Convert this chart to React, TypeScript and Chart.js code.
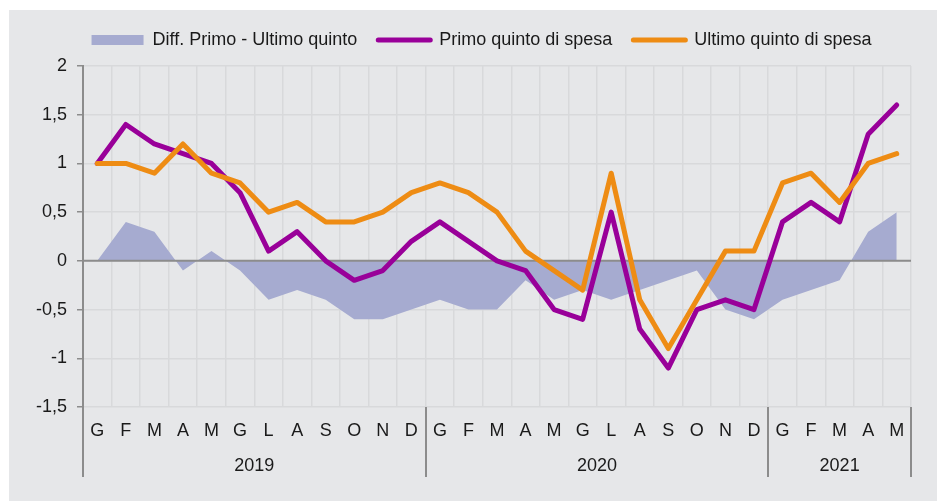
import React, { useEffect, useRef } from 'react';
import { Chart, registerables } from 'chart.js';

Chart.register(...registerables);

// ---- data ----
const categories = [
  'G', 'F', 'M', 'A', 'M', 'G', 'L', 'A', 'S', 'O', 'N', 'D',
  'G', 'F', 'M', 'A', 'M', 'G', 'L', 'A', 'S', 'O', 'N', 'D',
  'G', 'F', 'M', 'A', 'M',
];
const years = ['2019', '2020', '2021'];
const monthsPerYear = [12, 12, 5];

const diffPrimoUltimo = [
  0, 0.4, 0.3, -0.1, 0.1, -0.1, -0.4, -0.3, -0.4, -0.6, -0.6, -0.5,
  -0.4, -0.5, -0.5, -0.2, -0.4, -0.3, -0.4, -0.3, -0.2, -0.1, -0.5, -0.6,
  -0.4, -0.3, -0.2, 0.3, 0.5,
];
const primoQuinto = [
  1.0, 1.4, 1.2, 1.1, 1.0, 0.7, 0.1, 0.3, 0.0, -0.2, -0.1, 0.2,
  0.4, 0.2, 0.0, -0.1, -0.5, -0.6, 0.5, -0.7, -1.1, -0.5, -0.4, -0.5,
  0.4, 0.6, 0.4, 1.3, 1.6,
];
const ultimoQuinto = [
  1.0, 1.0, 0.9, 1.2, 0.9, 0.8, 0.5, 0.6, 0.4, 0.4, 0.5, 0.7,
  0.8, 0.7, 0.5, 0.1, -0.1, -0.3, 0.9, -0.4, -0.9, -0.4, 0.1, 0.1,
  0.8, 0.9, 0.6, 1.0, 1.1,
];
const yTickValues = [-1.5, -1, -0.5, 0, 0.5, 1, 1.5, 2];
const seriesNames = ['Diff. Primo - Ultimo quinto', 'Primo quinto di spesa', 'Ultimo quinto di spesa'];

// ---- styles ----
const FONT = "'Liberation Sans', Arial, Helvetica, sans-serif";
const TEXT = '#1a1a1a';
const GRID = '#d8d9db';
const AXIS = '#8c8c8c';
const AREA = '#a6abd0';
const PURPLE = '#990099';
const ORANGE = '#ee8c14';

// year boundaries / centers (in category index units)
const boundaries: number[] = [-0.5];
const centers: number[] = [];
{
  let acc = 0;
  monthsPerYear.forEach((n) => {
    centers.push(acc - 0.5 + n / 2);
    acc += n;
    boundaries.push(acc - 0.5);
  });
}

const zeroLinePlugin = {
  id: 'zeroLine',
  beforeDatasetsDraw(chart: any) {
    const { ctx, chartArea, scales } = chart;
    const py = scales.y.getPixelForValue(0);
    ctx.save();
    ctx.strokeStyle = AXIS;
    ctx.lineWidth = 2;
    ctx.beginPath();
    ctx.moveTo(chartArea.left, py);
    ctx.lineTo(chartArea.right, py);
    ctx.stroke();
    ctx.restore();
  },
};

// year separators crossing both label rows
const yearSeparatorPlugin = {
  id: 'yearSeparators',
  afterDraw(chart: any) {
    const { ctx, chartArea, scales } = chart;
    const xs = scales.x2;
    ctx.save();
    ctx.strokeStyle = AXIS;
    ctx.lineWidth = 2;
    ctx.beginPath();
    boundaries.forEach((b) => {
      const px = Math.round(xs.getPixelForValue(b));
      ctx.moveTo(px, chartArea.bottom);
      ctx.lineTo(px, xs.bottom);
    });
    ctx.stroke();
    ctx.restore();
  },
};

export default function App() {
  const ref = useRef<HTMLCanvasElement | null>(null);

  useEffect(() => {
    if (!ref.current) return;
    Chart.defaults.font.family = FONT;
    const chart = new Chart(ref.current, {
      type: 'line',
      data: {
        labels: categories,
        datasets: [
          {
            label: seriesNames[0],
            data: diffPrimoUltimo,
            xAxisID: 'x',
            yAxisID: 'y',
            fill: 'origin',
            backgroundColor: AREA,
            borderColor: 'rgba(0,0,0,0)',
            borderWidth: 0,
            pointRadius: 0,
            order: 3,
          },
          {
            label: seriesNames[1],
            data: primoQuinto,
            xAxisID: 'x',
            yAxisID: 'y',
            fill: false,
            borderColor: PURPLE,
            backgroundColor: PURPLE,
            borderWidth: 5,
            pointRadius: 0,
            borderCapStyle: 'round',
            borderJoinStyle: 'round',
            order: 2,
          },
          {
            label: seriesNames[2],
            data: ultimoQuinto,
            xAxisID: 'x',
            yAxisID: 'y',
            fill: false,
            borderColor: ORANGE,
            backgroundColor: ORANGE,
            borderWidth: 5,
            pointRadius: 0,
            borderCapStyle: 'round',
            borderJoinStyle: 'round',
            order: 1,
          },
        ],
      },
      options: {
        responsive: false,
        animation: false,
        layout: { padding: { left: 17, right: 0, top: 0, bottom: 24 } },
        elements: { line: { tension: 0 } },
        plugins: {
          tooltip: { enabled: false },
          filler: { drawTime: 'beforeDatasetsDraw' },
          subtitle: {
            display: true,
            text: '',
            padding: 0,
            font: { size: 7, lineHeight: 1 },
            weight: 500,
          },
          legend: {
            display: true,
            position: 'top',
            reverse: true,
            labels: {
              usePointStyle: true,
              pointStyleWidth: 52,
              boxHeight: 10,
              padding: 21,
              color: TEXT,
              font: { size: 18, family: FONT },
              generateLabels: (c: any) => {
                const items = (Chart.defaults.plugins.legend.labels as any).generateLabels(c);
                return items.map((it: any) => {
                  const ds: any = c.data.datasets[it.datasetIndex];
                  if (ds.fill) {
                    return { ...it, pointStyle: 'rect', lineWidth: 0, fillStyle: ds.backgroundColor, strokeStyle: ds.backgroundColor };
                  }
                  return { ...it, pointStyle: 'line', lineWidth: 5, lineCap: 'round', strokeStyle: ds.borderColor, fillStyle: ds.borderColor };
                });
              },
            },
          },
        },
        scales: {
          x: {
            type: 'category',
            axis: 'x',
            position: 'bottom',
            offset: true,
            weight: 0,
            grid: {
              offset: true,
              color: GRID,
              lineWidth: 1.5,
              drawTicks: false,
            },
            border: { display: false },
            ticks: {
              autoSkip: false,
              maxRotation: 0,
              minRotation: 0,
              padding: 13.2,
              color: TEXT,
              font: { size: 18, family: FONT },
            },
          },
          x2: {
            type: 'linear',
            axis: 'x',
            position: 'bottom',
            weight: 1,
            min: boundaries[0],
            max: boundaries[boundaries.length - 1],
            afterBuildTicks: (scale: any) => {
              scale.ticks = centers.map((v) => ({ value: v }));
            },
            grid: { display: false, drawTicks: false },
            border: { display: false },
            ticks: {
              autoSkip: false,
              maxRotation: 0,
              minRotation: 0,
              padding: 0.2,
              color: TEXT,
              font: { size: 18, family: FONT },
              callback: (v: any) => {
                const k = centers.indexOf(Number(v));
                return k >= 0 ? years[k] : '';
              },
            },
          },
          y: {
            type: 'linear',
            position: 'left',
            min: yTickValues[0],
            max: yTickValues[yTickValues.length - 1],
            afterFit: (scale: any) => {
              scale.width = 57;
            },
            afterBuildTicks: (scale: any) => {
              scale.ticks = yTickValues.map((v) => ({ value: v }));
            },
            grid: {
              color: GRID,
              lineWidth: 1.5,
              tickLength: 6,
              tickColor: AXIS,
              tickWidth: 1.5,
            },
            border: { display: true, color: AXIS, width: 2 },
            ticks: {
              padding: 10,
              color: TEXT,
              font: { size: 18, family: FONT },
              callback: (v: any) => String(v).replace('.', ','),
            },
          },
          yR: {
            type: 'linear',
            position: 'right',
            display: true,
            min: 0,
            max: 1,
            afterFit: (scale: any) => {
              scale.width = 26;
            },
            grid: { display: false, drawTicks: false, drawOnChartArea: false },
            border: { display: false },
            ticks: { display: false },
          },
        },
      } as any,
      plugins: [zeroLinePlugin, yearSeparatorPlugin],
    });
    return () => chart.destroy();
  }, []);

  return (
    <div
      style={{
        position: 'absolute',
        left: 9,
        top: 10,
        width: 928,
        height: 491,
        background: '#e6e7e9',
      }}
    >
      <canvas ref={ref} width={928} height={491} style={{ display: 'block' }} />
    </div>
  );
}
